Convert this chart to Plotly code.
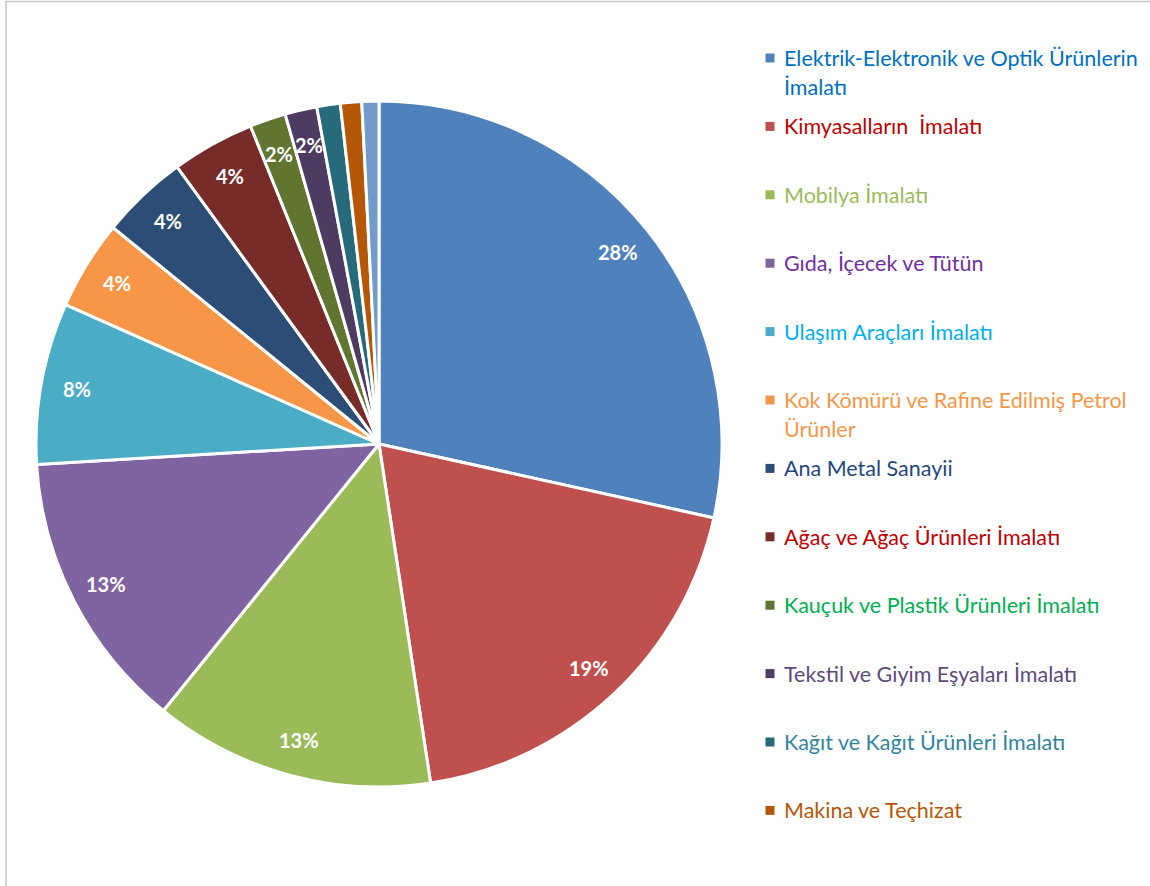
import math
import plotly.graph_objects as go

# Sector shares (percent of total)
sectors = [
    "Elektrik-Elektronik ve Optik Ürünlerin İmalatı",
    "Kimyasalların  İmalatı",
    "Mobilya İmalatı",
    "Gıda, İçecek ve Tütün",
    "Ulaşım Araçları İmalatı",
    "Kok Kömürü ve Rafine Edilmiş Petrol Ürünler",
    "Ana Metal Sanayii",
    "Ağaç ve Ağaç Ürünleri İmalatı",
    "Kauçuk ve Plastik Ürünleri İmalatı",
    "Tekstil ve Giyim Eşyaları İmalatı",
    "Kağıt ve Kağıt Ürünleri İmalatı",
    "Makina ve Teçhizat",
    "Diğer",
]
shares = [28.4, 19.1, 13.2, 13.2, 7.6, 4.2, 4.1, 3.9, 1.7, 1.5, 1.1, 1.0, 0.8]

slice_colors = [
    "#4F81BD", "#C0504D", "#9BBB59", "#8064A2", "#4BACC6", "#F79646",
    "#2C4D75", "#772C2A", "#5F7530", "#4D3B62", "#276A7C", "#B65708", "#729ACA",
]

# Legend entries (wrapped as displayed) and their text colours
legend_lines = [
    ["Elektrik-Elektronik ve Optik Ürünlerin", "İmalatı"],
    ["Kimyasalların  İmalatı"],
    ["Mobilya İmalatı"],
    ["Gıda, İçecek ve Tütün"],
    ["Ulaşım Araçları İmalatı"],
    ["Kok Kömürü ve Rafine Edilmiş Petrol", "Ürünler"],
    ["Ana Metal Sanayii"],
    ["Ağaç ve Ağaç Ürünleri İmalatı"],
    ["Kauçuk ve Plastik Ürünleri İmalatı"],
    ["Tekstil ve Giyim Eşyaları İmalatı"],
    ["Kağıt ve Kağıt Ürünleri İmalatı"],
    ["Makina ve Teçhizat"],
]
legend_text_colors = [
    "#0070C0", "#C00000", "#9BBB59", "#7030A0", "#00B0F0", "#F79646",
    "#1F497D", "#C00000", "#00B050", "#604A7B", "#31859C", "#B65708",
]

W, H = 1150, 886
FONT = "Lato, 'Open Sans', sans-serif"

# Pie placement in pixels
cx_px, cy_px, r_px = 379, 444, 343
dom_x = [(cx_px - r_px) / W, (cx_px + r_px) / W]
dom_y = [(H - cy_px - r_px) / H, (H - cy_px + r_px) / H]

fig = go.Figure()
fig.add_trace(go.Pie(
    labels=sectors,
    values=shares,
    sort=False,
    direction="clockwise",
    rotation=0,
    marker=dict(colors=slice_colors, line=dict(color="white", width=3)),
    textinfo="none",
    showlegend=False,
    domain=dict(x=dom_x, y=dom_y),
    hovertemplate="%{label}: %{percent:.0%}<extra></extra>",
))

annotations = []
shapes = []

# Percentage labels placed along the mid-angle of each slice
total = sum(shares)
cum = 0.0
for v in shares:
    pct = v / total * 100
    mid = (cum + v / 2) / total * 2 * math.pi
    cum += v
    if pct < 1.5:
        continue
    rl = 0.895 * r_px
    x_px = cx_px + rl * math.sin(mid)
    y_px = cy_px - rl * math.cos(mid)
    annotations.append(dict(
        x=x_px / W, y=(H - y_px) / H, xref="paper", yref="paper",
        text=f"<b>{round(pct)}%</b>", showarrow=False,
        xanchor="center", yanchor="middle",
        font=dict(family=FONT, size=20, color="white"),
    ))

# Legend drawn at the right
leg_x_marker = 770
leg_x_text = 782
leg_y0 = 58
leg_step = 68.4
line_gap = 29
for i, (lines, tc) in enumerate(zip(legend_lines, legend_text_colors)):
    y = leg_y0 + i * leg_step
    shapes.append(dict(
        type="rect", xref="paper", yref="paper",
        x0=(leg_x_marker - 4.5) / W, x1=(leg_x_marker + 4.5) / W,
        y0=(H - y - 4.5) / H, y1=(H - y + 4.5) / H,
        fillcolor=slice_colors[i], line=dict(width=0),
    ))
    for j, ln in enumerate(lines):
        yy = y + j * line_gap
        annotations.append(dict(
            x=leg_x_text / W, y=(H - yy) / H, xref="paper", yref="paper",
            text=ln, showarrow=False, xanchor="left", yanchor="middle",
            font=dict(family=FONT, size=21.5, color=tc),
        ))

# Chart frame
shapes.append(dict(
    type="rect", xref="paper", yref="paper",
    x0=6 / W, x1=1.02, y0=-0.02, y1=(H - 1.5) / H,
    line=dict(color="#C8C8C8", width=1.5), fillcolor="rgba(0,0,0,0)",
    layer="below",
))

fig.update_layout(
    width=W, height=H,
    margin=dict(l=0, r=0, t=0, b=0),
    paper_bgcolor="white",
    plot_bgcolor="white",
    annotations=annotations,
    shapes=shapes,
    font=dict(family=FONT),
)

fig.write_html("out.html")
